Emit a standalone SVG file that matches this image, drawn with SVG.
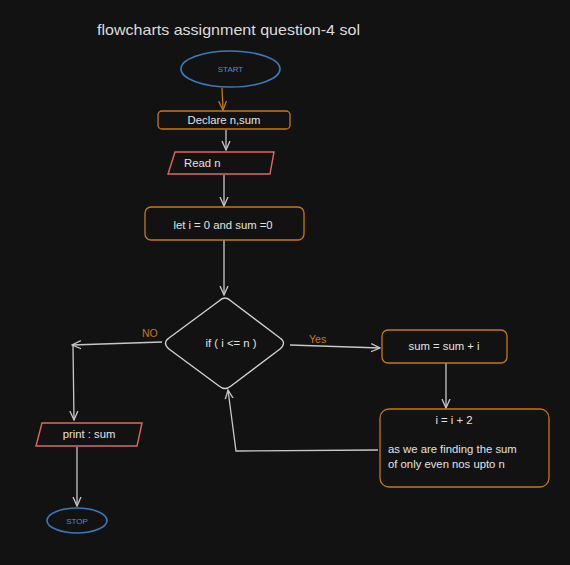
<svg xmlns="http://www.w3.org/2000/svg" width="570" height="565" viewBox="0 0 570 565">
<defs>
<style>
.bg{fill:#121212}
.t{font-family:"Liberation Sans",Arial,sans-serif;fill:#e2e2e2;font-size:11.3px}
.title{font-size:15px;fill:#dcdcdc}
.or{fill:none;stroke:#c27a12;stroke-width:1.3}
.rd{fill:none;stroke:#e06666;stroke-width:1.4}
.bl{fill:none;stroke:#3d7ab8;stroke-width:1.6}
.wh{fill:none;stroke:#d4d4d4;stroke-width:1.3}
.c{fill:none;stroke:#c8c8c8;stroke-width:1.3}
.co{fill:none;stroke:#c27a12;stroke-width:1.3}
.lab{font-family:"Liberation Sans",Arial,sans-serif;font-size:10.5px;fill:#c27a12}
.btx{font-family:"Liberation Sans",Arial,sans-serif;font-size:8px;fill:#4a8ed6}
</style>
<marker id="ah" viewBox="0 0 10 10" refX="9" refY="5" markerWidth="10" markerHeight="10" orient="auto" markerUnits="userSpaceOnUse">
<path d="M0,1 L9,5 L0,9" fill="none" stroke="#c8c8c8" stroke-width="1.3"/>
</marker>
<marker id="aho" viewBox="0 0 10 10" refX="9" refY="5" markerWidth="10" markerHeight="10" orient="auto" markerUnits="userSpaceOnUse">
<path d="M0,1 L9,5 L0,9" fill="none" stroke="#c27a12" stroke-width="1.3"/>
</marker>
</defs>
<rect class="bg" x="0" y="0" width="570" height="565"/>
<text class="t title" x="97" y="35" textLength="263" lengthAdjust="spacingAndGlyphs">flowcharts assignment question-4 sol</text>

<g id="connectors">
<path class="co" d="M222,88 L223,110" marker-end="url(#aho)"/>
<path class="c" d="M226,130 L226,150" marker-end="url(#ah)"/>
<path class="c" d="M224,175 L224,206" marker-end="url(#ah)"/>
<path class="c" d="M224,240 L224,295" marker-end="url(#ah)"/>
<path class="c" d="M162,342 L72,345" marker-end="url(#ah)"/>
<path class="c" d="M73,346 L74,420" marker-end="url(#ah)"/>
<path class="c" d="M290,345 L380,348" marker-end="url(#ah)"/>
<path class="c" d="M446,363 L446,408" marker-end="url(#ah)"/>
<path class="c" d="M378,450 L236,451 L228,390" marker-end="url(#ah)"/>
<path class="c" d="M77,447 L77,506" marker-end="url(#ah)"/>
<text class="lab" x="142" y="337">NO</text>
<text class="lab" x="309" y="343">Yes</text>
</g>

<g id="start">
<ellipse class="bl" cx="230.5" cy="69" rx="49.5" ry="18"/>
<text class="btx" x="230.5" y="72" text-anchor="middle">START</text>
</g>
<g id="declare">
<rect class="or" x="158" y="111" width="132" height="18" rx="4"/>
<text class="t" x="224" y="124" text-anchor="middle">Declare n,sum</text>
</g>
<g id="read">
<polygon class="rd" points="175,152 274,152 270,174 168,174"/>
<text class="t" x="184" y="167">Read n</text>
</g>
<g id="init">
<rect class="or" x="145" y="207" width="159" height="33" rx="6"/>
<text class="t" x="223" y="229" text-anchor="middle">let i = 0 and sum =0</text>
</g>
<g id="cond">
<path class="wh" d="M219,301 Q225,295 231,301 L280,338 Q287,343 280,349 L231,386 Q225,391 219,386 L169,349 Q162,343 169,338 Z"/>
<text class="t" x="231" y="347" text-anchor="middle">if ( i &lt;= n )</text>
</g>
<g id="sum">
<rect class="or" x="382" y="330" width="125" height="33" rx="6"/>
<text class="t" x="444" y="350" text-anchor="middle">sum = sum + i</text>
</g>
<g id="incr">
<rect class="or" x="380" y="409" width="169" height="78" rx="9"/>
<text class="t" x="454" y="424" text-anchor="middle">i = i + 2</text>
<text class="t" x="388" y="453">as we are finding the sum</text>
<text class="t" x="388" y="468">of only even nos upto n</text>
</g>
<g id="print">
<polygon class="rd" points="42,423 142,423 137,446 36,446"/>
<text class="t" x="89" y="438" text-anchor="middle">print : sum</text>
</g>
<g id="stop">
<ellipse class="bl" cx="77" cy="520.5" rx="30" ry="12.5"/>
<text class="btx" x="77" y="523.5" text-anchor="middle">STOP</text>
</g>
</svg>
